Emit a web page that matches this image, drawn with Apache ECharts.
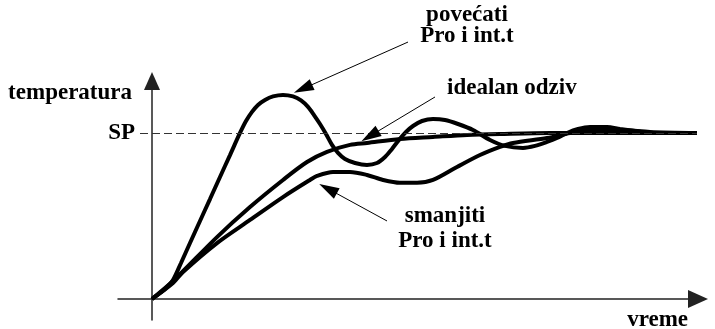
<!DOCTYPE html>
<html>
<head>
<meta charset="utf-8">
<script src="https://cdn.jsdelivr.net/npm/echarts@6/dist/echarts.min.js"></script>
<style>
  html, body { margin: 0; padding: 0; background: #fff; }
  #chart { width: 715px; height: 329px; }
</style>
</head>
<body>
<div id="chart"></div>
<script>
// response curves, [time, temperature / SP]
const overshootCurve = [
  [0, 0], [8, 0.036], [14, 0.066], [21, 0.114], [29, 0.217], [38, 0.337],
  [48, 0.47], [58, 0.602], [68, 0.735], [78, 0.867], [88, 1.0], [94, 1.072],
  [100, 1.127], [106, 1.169], [113, 1.199], [121, 1.22], [131, 1.229], [141, 1.22],
  [149, 1.196], [156, 1.157], [162, 1.108], [168, 1.054], [174, 0.994], [180, 0.928],
  [186, 0.88], [193, 0.843], [203, 0.819], [215, 0.807], [225, 0.819], [233, 0.855],
  [240, 0.904], [247, 0.958], [254, 1.006], [261, 1.042], [270, 1.072], [281, 1.084],
  [293, 1.078], [306, 1.054], [321, 1.018], [338, 0.958], [353, 0.922], [371, 0.91],
  [383, 0.922], [395, 0.946], [405, 0.97], [415, 1.0], [426, 1.024], [438, 1.036],
  [455, 1.036], [468, 1.024], [483, 1.012], [498, 1.0], [545, 1.0]
];
const idealCurve = [
  [0, 0], [21, 0.108], [65, 0.373], [98, 0.554], [131, 0.717], [155, 0.825],
  [175, 0.886], [198, 0.928], [215, 0.94], [248, 0.964], [281, 0.976], [315, 0.988],
  [348, 0.994], [398, 1.0], [545, 1.0]
];
const slowCurve = [
  [0, 0], [21, 0.096], [31, 0.163], [65, 0.337], [98, 0.476], [131, 0.614],
  [158, 0.717], [165, 0.741], [181, 0.765], [198, 0.765], [215, 0.747], [231, 0.717],
  [248, 0.7], [265, 0.7], [281, 0.717], [305, 0.795], [328, 0.867], [348, 0.916],
  [361, 0.94], [395, 0.97], [418, 1.0], [438, 1.018], [468, 1.018], [498, 1.006],
  [545, 1.0]
];
const setPoint = 1;
const spRange = [-12, 545];

// annotation arrows: [from, to] in data units
const arrows = [
  [[256, 1.548], [151, 1.267]],
  [[283, 1.217], [218, 0.982]],
  [[235, 0.47], [176, 0.664]]
];

const font = 'Liberation Serif';
const txt = (text, x, y, align) => ({
  type: 'text', x: x, y: y,
  style: { text: text, fill: '#000', font: 'bold 23px "' + font + '"', textAlign: align, textVerticalAlign: 'middle' }
});

const chart = echarts.init(document.getElementById('chart'));

const lineSeries = (data) => ({
  type: 'line',
  data: data,
  showSymbol: false,
  smooth: 0.3,
  clip: false,
  lineStyle: { color: '#000', width: 4 },
  silent: true
});

const series = [lineSeries(overshootCurve), lineSeries(idealCurve), lineSeries(slowCurve)];
series[0].markLine = {
  silent: true,
  animation: false,
  label: { show: false },
  data: [[
    { coord: [spRange[0], setPoint], symbol: 'none', lineStyle: { type: [8, 4], width: 1, color: '#333' } },
    { coord: [spRange[1], setPoint], symbol: 'none' }
  ]]
};
// arrows live on a full-height grid with the same scale
series.push({
  type: 'line',
  xAxisIndex: 1,
  yAxisIndex: 1,
  data: [],
  silent: true,
  markLine: {
    silent: true,
    animation: false,
    label: { show: false },
    symbol: ['none', 'triangle'],
    symbolSize: [12, 20],
    lineStyle: { type: 'solid', color: '#000', width: 1 },
    data: arrows.map(a => [{ coord: a[0] }, { coord: a[1] }])
  }
});

const hidden = { show: false };

chart.setOption({
  animation: false,
  grid: [
    { left: 118, right: 17, top: 81, bottom: 9 },
    { left: 118, right: 17, top: 0, bottom: 9 }
  ],
  xAxis: [{
    type: 'value', min: -34, max: 546,
    axisLine: { onZero: true, symbol: ['none', 'triangle'], symbolSize: [18, 20], lineStyle: { color: '#222', width: 1.5 } },
    axisTick: hidden, axisLabel: hidden, splitLine: hidden
  }, {
    type: 'value', gridIndex: 1, min: -34, max: 546, show: false, splitLine: hidden
  }],
  yAxis: [{
    type: 'value', min: -0.1265, max: 1.313,
    axisLine: { onZero: true, symbol: ['none', 'triangle'], symbolSize: [16, 18], lineStyle: { color: '#222', width: 1.5 } },
    axisTick: hidden, axisLabel: hidden, splitLine: hidden
  }, {
    type: 'value', gridIndex: 1, min: -0.1265, max: 1.8012, show: false, splitLine: hidden
  }],
  series: series,
  graphic: [
    txt('temperatura', 132, 93, 'right'),
    txt('SP', 135, 133, 'right'),
    txt('vreme', 688, 320, 'right'),
    txt('povećati', 467, 15, 'center'),
    txt('Pro i int.t', 467, 36, 'center'),
    txt('idealan odziv', 447, 88, 'left'),
    txt('smanjiti', 445, 216, 'center'),
    txt('Pro i int.t', 445, 241, 'center')
  ]
});
</script>
</body>
</html>
